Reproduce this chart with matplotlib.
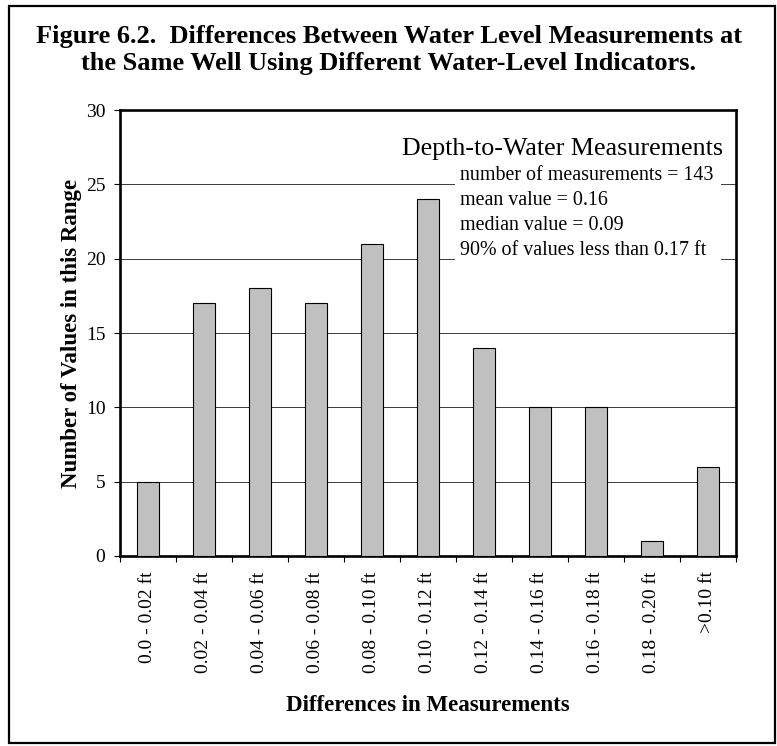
import matplotlib
matplotlib.use("Agg")
from matplotlib import pyplot as plt
from matplotlib.patches import Rectangle

# data
categories = ["0.0 - 0.02 ft", "0.02 - 0.04 ft", "0.04 - 0.06 ft", "0.06 - 0.08 ft",
              "0.08 - 0.10 ft", "0.10 - 0.12 ft", "0.12 - 0.14 ft", "0.14 - 0.16 ft",
              "0.16 - 0.18 ft", "0.18 - 0.20 ft", ">0.10 ft"]
counts = [5, 17, 18, 17, 21, 24, 14, 10, 10, 1, 6]
y_ticks = [0, 5, 10, 15, 20, 25, 30]

title_lines = ["Figure 6.2.  Differences Between Water Level Measurements at",
               "the Same Well Using Different Water-Level Indicators."]
box_title = "Depth-to-Water Measurements"
box_lines = ["number of measurements = 143",
             "mean value = 0.16",
             "median value = 0.09",
             "90% of values less than 0.17 ft"]

plt.rcParams["font.family"] = ["Liberation Serif", "DejaVu Serif"]

W, H = 777, 746
fig = plt.figure(figsize=(W / 100, H / 100), dpi=100)


def fx(px):
    return px / W


def fy(py):
    return 1 - py / H


# outer frame
fig.patches.append(Rectangle((fx(9), fy(743)), fx(766), 737 / H, transform=fig.transFigure,
                             fill=False, edgecolor="black", linewidth=1.6))

ax = fig.add_axes([fx(120), fy(556), fx(736 - 120), (556 - 110) / H])
x = list(range(len(categories)))
ax.bar(x, counts, width=0.39, color="#c0c0c0", edgecolor="black", linewidth=0.8, zorder=3)
ax.set_xlim(-0.5, len(categories) - 0.5)
ax.set_ylim(0, 30)
ax.set_yticks(y_ticks)
ax.yaxis.grid(True, color="#3a3a3a", linewidth=0.7)
ax.set_axisbelow(True)
for s in ax.spines.values():
    s.set_linewidth(1.9)

ax.tick_params(axis="y", direction="out", length=4.5, width=0.8, pad=6, labelsize=14)
ax.set_xticks(x)
ax.set_xticklabels(categories, rotation=90, fontsize=14)
ax.set_xticks([i - 0.5 for i in range(len(categories) + 1)], minor=True)
ax.tick_params(axis="x", which="major", length=0, pad=11)
ax.tick_params(axis="x", which="minor", direction="out", length=4, width=0.8)

ax.set_ylabel("Number of Values in this Range", fontsize=16.5, fontweight="bold")
ax.yaxis.set_label_coords(fx(82), 0.5, transform=fig.transFigure)
ax.yaxis.label.set_y(fy(333))
ax.set_xlabel("Differences in Measurements", fontsize=16.5, fontweight="bold")
ax.xaxis.set_label_coords(0.5, fy(695), transform=fig.transFigure)
ax.xaxis.label.set_x(fx(428))

# white box hiding the gridlines behind the summary text
ax.add_patch(Rectangle((5.48, 19.2), 4.75, 7.5, facecolor="white", edgecolor="none", zorder=2))

for i, line in enumerate(title_lines):
    fig.text(0.5, fy(43 + 27 * i), line, ha="center", va="baseline", fontsize=19,
             fontweight="bold")
fig.text(fx(723), fy(155), box_title, ha="right", va="baseline", fontsize=18.7)
for i, line in enumerate(box_lines):
    fig.text(fx(460), fy(180 + 25 * i), line, ha="left", va="baseline", fontsize=14.4)

fig.savefig("out.png", dpi=100)
